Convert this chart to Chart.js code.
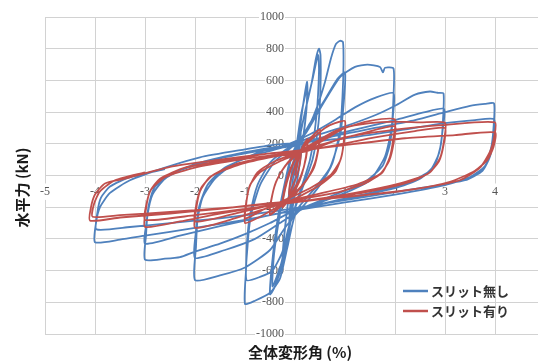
<!DOCTYPE html>
<html><head><meta charset="utf-8">
<script src="https://cdn.jsdelivr.net/npm/chart.js@4/dist/chart.umd.min.js"></script>
<style>
html,body{margin:0;padding:0;background:#fff;overflow:hidden;}
#wrap{width:538px;height:363px;overflow:hidden;position:relative;}
canvas{display:block;}
</style></head><body>
<div id="wrap"><canvas id="c" width="590" height="363"></canvas></div>
<script>
// Axis ticks: drift angle (%) and horizontal force (kN)
const driftTicks = [-5, -4, -3, -2, -1, 0, 1, 2, 3, 4, 5];
const forceTicks = [-1000, -800, -600, -400, -200, 0, 200, 400, 600, 800, 1000];

const seriesNames = ['スリット無し', 'スリット有り'];
const seriesColors = ['#4F81BD', '#C0504D'];
const axisTitles = { x: '全体変形角 (%)', y: '水平力 (kN)' };

// Hysteresis path without slit: [drift %, force kN], cycles ±0.125 … ±4 %
const noSlitLoop = [
  [0,0],
  [0.05,130],[0.12,320],[0.1,190],[0.03,30],[-0.03,-80],[-0.1,-280],[-0.12,-330],[-0.09,-170],[-0.02,30],
  [0.06,200],[0.15,420],[0.24,590],[0.25,520],[0.2,330],[0.12,140],[0.05,-20],[-0.05,-200],[-0.15,-420],[-0.25,-580],[-0.22,-400],[-0.14,-170],[-0.05,50],
  [0.03,190],[0.12,380],[0.24,550],[0.23,420],[0.15,200],[0.02,-80],[-0.08,-260],[-0.18,-440],[-0.25,-540],[-0.21,-360],[-0.12,-120],[-0.03,90],
  [0.08,230],[0.2,400],[0.33,580],[0.42,740],[0.48,800],[0.51,760],[0.51,560],[0.47,330],[0.35,100],[0.1,-120],[-0.1,-300],[-0.25,-550],[-0.4,-700],[-0.5,-750],[-0.46,-560],[-0.35,-280],[-0.2,-40],[-0.08,120],
  [0.08,230],[0.22,430],[0.36,620],[0.46,760],[0.48,660],[0.43,380],[0.3,100],[0.05,-150],[-0.12,-330],[-0.28,-560],[-0.45,-700],[-0.42,-500],[-0.3,-240],[-0.15,0],[-0.05,140],
  [0.1,210],[0.28,310],[0.45,440],[0.6,590],[0.72,740],[0.82,830],[0.9,850],[0.96,842],[0.97,700],[0.95,500],[0.9,290],[0.75,80],[0.5,-60],[0.2,-180],[0,-250],[-0.15,-450],[-0.3,-650],[-0.5,-740],[-0.8,-790],[-1,-810],[-0.98,-600],[-0.96,-420],[-0.9,-250],[-0.75,-60],[-0.5,80],[-0.2,160],
  [0.05,200],[0.3,330],[0.6,480],[0.85,610],[1,650],[0.98,480],[0.9,250],[0.7,50],[0.4,-80],[0.1,-190],[-0.1,-300],[-0.25,-480],[-0.45,-600],[-0.7,-640],[-0.97,-660],[-0.95,-450],[-0.88,-250],[-0.7,-60],[-0.4,90],[-0.1,170],
  [0.2,260],[0.5,420],[0.9,620],[1.2,685],[1.45,700],[1.7,685],[1.76,650],[1.8,680],[1.97,675],[1.97,500],[1.93,300],[1.8,120],[1.5,-30],[1,-110],[0.5,-170],[0.1,-220],[-0.2,-330],[-0.5,-470],[-1,-580],[-1.5,-630],[-2,-660],[-1.98,-450],[-1.95,-280],[-1.85,-140],[-1.6,-20],[-1.2,80],[-0.6,160],[-0.2,190],
  [0.3,260],[0.8,350],[1.2,430],[1.6,490],[1.97,520],[1.96,380],[1.9,200],[1.75,60],[1.4,-40],[0.8,-120],[0.2,-200],[-0.3,-300],[-0.8,-400],[-1.4,-470],[-2,-520],[-1.98,-350],[-1.92,-200],[-1.75,-60],[-1.4,50],[-0.8,130],[-0.2,180],
  [0.4,250],[1,310],[1.6,380],[2,440],[2.4,510],[2.7,530],[2.85,522],[2.97,518],[2.96,350],[2.92,200],[2.8,70],[2.5,-20],[2,-80],[1,-150],[0,-220],[-0.5,-300],[-1,-370],[-1.5,-430],[-2,-480],[-2.3,-515],[-2.6,-525],[-3,-531],[-2.98,-380],[-2.95,-250],[-2.85,-120],[-2.6,-20],[-2.1,60],[-1.4,120],[-0.6,170],[0,195],
  [0.6,245],[1.2,290],[2,350],[2.6,400],[2.98,420],[2.95,280],[2.88,140],[2.7,30],[2.3,-40],[1.5,-110],[0.5,-180],[-0.5,-250],[-1.5,-320],[-2.3,-380],[-3,-430],[-2.97,-300],[-2.92,-180],[-2.8,-70],[-2.4,20],[-1.6,100],[-0.8,150],[0,190],
  [0.8,250],[1.6,300],[2.4,350],[3,400],[3.5,440],[3.8,452],[3.98,455],[3.97,300],[3.92,170],[3.8,60],[3.5,-10],[3,-60],[2,-120],[1,-170],[0,-220],[-1,-280],[-2,-330],[-3,-380],[-3.5,-405],[-4,-421],[-3.98,-300],[-3.9,-200],[-3.7,-110],[-3.3,-30],[-2.6,50],[-1.9,115],[-1,165],[-0.4,195],[0,205],
  [1,235],[2,280],[3,330],[3.6,350],[3.98,355],[3.96,230],[3.9,120],[3.75,30],[3.4,-30],[2.5,-80],[1.5,-130],[0.5,-180],[-0.5,-230],[-1.5,-270],[-2.5,-300],[-3.3,-325],[-3.97,-340],[-3.95,-230],[-3.88,-140],[-3.7,-70],[-3.3,-10],[-2.6,40]
];

// Hysteresis path with slit: [drift %, force kN]
const slitLoop = [
  [0,0],
  [0.05,80],[0.12,150],[0.1,80],[0.04,0],[-0.04,-60],[-0.12,-120],[-0.1,-50],[-0.04,20],
  [0.05,100],[0.15,180],[0.25,230],[0.22,120],[0.14,10],[0.04,-70],[-0.1,-140],[-0.25,-200],[-0.22,-100],[-0.14,0],[-0.04,80],
  [0.08,130],[0.25,215],[0.22,110],[0.12,0],[-0.05,-100],[-0.25,-190],[-0.2,-90],[-0.1,20],[0,100],
  [0.15,170],[0.35,250],[0.5,290],[0.48,200],[0.4,80],[0.25,-20],[0.05,-100],[-0.2,-170],[-0.5,-250],[-0.47,-150],[-0.38,-40],[-0.2,60],[0,120],
  [0.2,190],[0.5,270],[0.47,170],[0.38,50],[0.2,-40],[0,-110],[-0.25,-180],[-0.5,-240],[-0.46,-130],[-0.35,-20],[-0.15,80],[0.05,140],
  [0.3,220],[0.6,300],[0.8,330],[1,343],[0.98,230],[0.93,120],[0.8,20],[0.5,-60],[0.1,-130],[-0.3,-190],[-0.7,-260],[-1,-300],[-0.98,-190],[-0.92,-80],[-0.75,20],[-0.4,90],[0,140],
  [0.4,210],[0.8,280],[1,300],[0.97,190],[0.9,90],[0.7,0],[0.3,-80],[-0.1,-140],[-0.6,-210],[-1,-270],[-0.97,-160],[-0.9,-60],[-0.7,20],[-0.3,90],[0,130],
  [0.5,220],[1,300],[1.5,345],[2,354],[1.97,240],[1.9,120],[1.75,20],[1.4,-50],[0.8,-110],[0.1,-150],[-0.6,-210],[-1.3,-280],[-2,-330],[-1.98,-220],[-1.9,-100],[-1.7,-10],[-1.2,70],[-0.5,120],[0,145],
  [0.7,210],[1.4,270],[2,310],[1.97,200],[1.88,90],[1.7,10],[1.2,-60],[0.4,-120],[-0.4,-180],[-1.2,-240],[-2,-290],[-1.97,-180],[-1.88,-80],[-1.65,0],[-1.1,70],[-0.4,120],[0,140],
  [0.5,210],[1,300],[1.5,330],[2,340],[2.5,335],[3,333],[2.98,220],[2.9,110],[2.7,20],[2.3,-40],[1.5,-100],[0.5,-150],[-0.5,-190],[-1.5,-240],[-2.3,-290],[-3,-324],[-2.98,-210],[-2.9,-100],[-2.7,-20],[-2.2,50],[-1.3,100],[-0.5,140],[0,150],
  [0.8,190],[1.6,240],[2.4,280],[3,300],[2.97,190],[2.88,90],[2.65,10],[2.1,-50],[1.2,-110],[0.2,-160],[-1,-210],[-2,-250],[-3,-280],[-2.97,-180],[-2.88,-90],[-2.6,-10],[-2,50],[-1.2,95],[-0.4,130],[0.2,150],
  [1,240],[2,290],[3,320],[4,335],[3.98,240],[3.9,150],[3.7,50],[3.3,-30],[2.5,-80],[1.5,-120],[0.5,-150],[-0.5,-175],[-1.5,-210],[-2.5,-240],[-3.5,-265],[-4.1,-285],[-4.08,-200],[-4,-120],[-3.8,-50],[-3.4,-20],[-2.5,55],[-1.5,100],[-0.5,140],[0.3,165],
  [1.2,200],[2.2,235],[3.2,255],[4,272],[3.97,180],[3.85,100],[3.6,30],[3.1,-40],[2.3,-90],[1.2,-130],[0,-165],[-1.2,-200],[-2.5,-230],[-3.5,-250],[-4.05,-260],[-4.02,-180],[-3.9,-100],[-3.6,-30],[-3,20]
];

const toPoints = arr => arr.map(([x, y]) => ({ x, y }));

// Axis titles and the in-plot legend
const overlay = {
  id: 'overlay',
  afterDraw(chart) {
    const { ctx, chartArea: a } = chart;
    ctx.save();
    ctx.fillStyle = '#1a1a1a';
    ctx.font = 'bold 15px "Noto Sans CJK JP", sans-serif';
    ctx.textAlign = 'center';
    ctx.textBaseline = 'middle';
    ctx.fillText(axisTitles.x, (a.left + a.right) / 2 + 5, 352);
    ctx.save();
    ctx.translate(22, (a.top + a.bottom) / 2 + 12);
    ctx.rotate(-Math.PI / 2);
    ctx.fillText(axisTitles.y, 0, 0);
    ctx.restore();

    ctx.font = 'bold 13px "Noto Sans CJK JP", sans-serif';
    ctx.textAlign = 'left';
    chart.data.datasets.forEach((ds, i) => {
      const y = 291 + i * 20;
      ctx.strokeStyle = ds.borderColor;
      ctx.lineWidth = 2.5;
      ctx.beginPath();
      ctx.moveTo(403, y);
      ctx.lineTo(428, y);
      ctx.stroke();
      ctx.fillStyle = '#333';
      ctx.fillText(ds.label, 431, y);
    });
    ctx.restore();
  }
};

const tickFont = { family: '"Liberation Serif", serif', size: 12 };

new Chart(document.getElementById('c'), {
  type: 'scatter',
  data: {
    datasets: [
      { label: seriesNames[0], data: toPoints(noSlitLoop), borderColor: seriesColors[0], order: 2 },
      { label: seriesNames[1], data: toPoints(slitLoop), borderColor: seriesColors[1], order: 1 }
    ].map(d => Object.assign(d, { showLine: true, pointRadius: 0, borderWidth: 1.8, tension: 0.2, fill: false }))
  },
  options: {
    responsive: false,
    animation: false,
    events: [],
    layout: { padding: { left: 45, right: 45, top: 17, bottom: 29 } },
    plugins: { legend: { display: false }, tooltip: { enabled: false } },
    scales: {
      x: {
        type: 'linear',
        position: { y: 0 },
        min: -5, max: 5,
        afterBuildTicks: s => { s.ticks = driftTicks.map(v => ({ value: v })); },
        grid: { color: '#d2d2d2', lineWidth: 1, drawTicks: false },
        border: { display: false },
        ticks: {
          padding: 9, font: tickFont, color: '#555', autoSkip: false, maxRotation: 0,
          showLabelBackdrop: true, backdropColor: '#fff', backdropPadding: 1,
          callback: v => String(v)
        }
      },
      y: {
        type: 'linear',
        position: { x: -0.22 },
        min: -1000, max: 1000,
        afterBuildTicks: s => { s.ticks = forceTicks.map(v => ({ value: v })); },
        grid: { color: '#d2d2d2', lineWidth: 1, drawTicks: false },
        border: { display: false },
        ticks: {
          padding: 0, font: tickFont, color: '#555', autoSkip: false,
          showLabelBackdrop: true, backdropColor: '#fff', backdropPadding: 1,
          callback: v => String(v)
        }
      }
    }
  },
  plugins: [overlay]
});
</script>
</body></html>
